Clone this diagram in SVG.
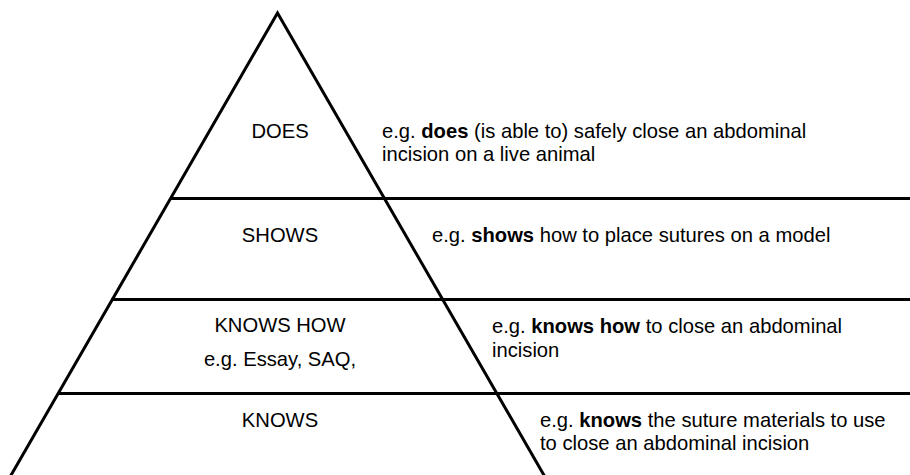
<svg xmlns="http://www.w3.org/2000/svg" width="910" height="475" viewBox="0 0 910 475">
<style>
  .ln { stroke: #000; stroke-width: 3; fill: none; }
  text { font-family: "Liberation Sans", Arial, Helvetica, sans-serif; font-size: 20.2px; fill: #000; }
  .c { text-anchor: middle; }
  .b { font-weight: bold; }
</style>
<rect width="910" height="475" fill="#fff"/>
<g id="connectors">
  <polyline class="ln" points="10,477 277.5,13 545,477" stroke-linejoin="miter"/>
  <line class="ln" x1="170" y1="198.5" x2="910" y2="198.5"/>
  <line class="ln" x1="111" y1="299.5" x2="910" y2="299.5"/>
  <line class="ln" x1="58" y1="393.5" x2="910" y2="393.5"/>
</g>
<g id="does">
  <text class="c" x="280" y="137.5">DOES</text>
  <text x="382" y="137.5">e.g. <tspan class="b">does</tspan> (is able to) safely close an abdominal</text>
  <text x="382" y="160.5">incision on a live animal</text>
</g>
<g id="shows">
  <text class="c" x="280" y="242">SHOWS</text>
  <text x="432" y="242">e.g. <tspan class="b">shows</tspan> how to place sutures on a model</text>
</g>
<g id="knows-how">
  <text class="c" x="280" y="332">KNOWS HOW</text>
  <text class="c" x="280" y="365.5">e.g. Essay, SAQ,</text>
  <text x="492" y="333">e.g. <tspan class="b">knows how</tspan> to close an abdominal</text>
  <text x="492" y="356.5">incision</text>
</g>
<g id="knows">
  <text class="c" x="280" y="426.5">KNOWS</text>
  <text x="540" y="426.5">e.g. <tspan class="b">knows</tspan> the suture materials to use</text>
  <text x="540" y="450">to close an abdominal incision</text>
</g>
</svg>
